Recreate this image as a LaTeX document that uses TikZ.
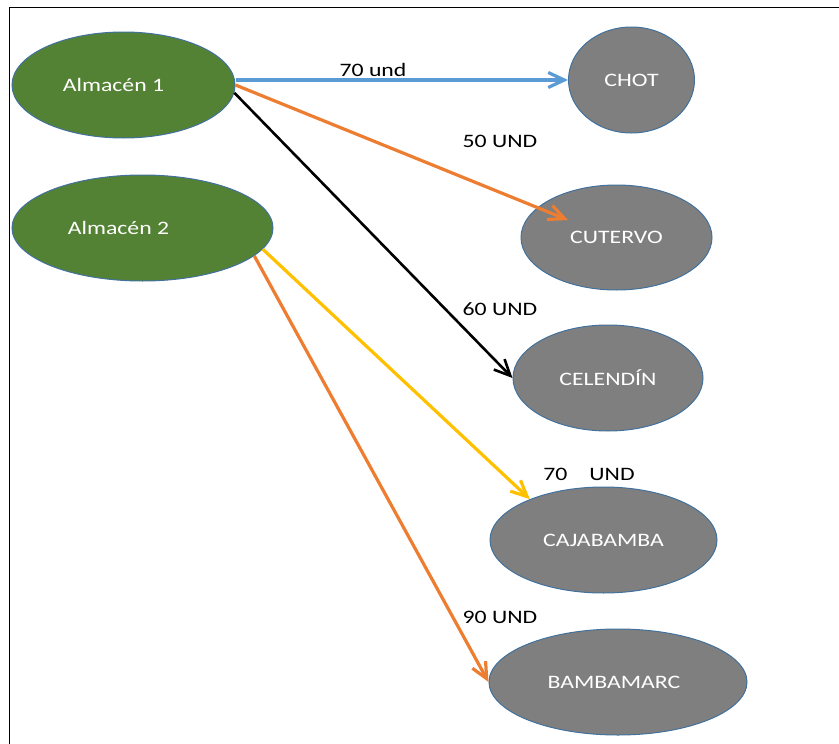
\documentclass[tikz,border=0pt]{standalone}
\usepackage{fontspec}
\setmainfont{Carlito}
\newfontfamily\lblfont[FakeStretch=1.25]{Carlito}
\usetikzlibrary{shapes.geometric,arrows.meta}
\definecolor{cblue}{HTML}{5B9BD5}
\definecolor{corange}{HTML}{ED7D31}
\definecolor{cyellow}{HTML}{FFC000}
\definecolor{cgreen}{HTML}{548235}
\definecolor{cgray}{HTML}{7F7F7F}
\definecolor{cedge}{HTML}{41719C}
\tikzset{
  oval/.style={ellipse, draw=cedge, line width=1pt, inner sep=0pt, text=white,
    font=\lblfont\fontsize{19}{22}\selectfont},
  store/.style={oval, fill=cgreen},
  town/.style={oval, fill=cgray},
  qty/.style={inner sep=0pt, text=black, font=\lblfont\fontsize{19}{22}\selectfont},
  flow/.style={line width=3.2pt, -{Straight Barb[length=16pt,width=15pt]}},
}
\begin{document}
\begin{tikzpicture}[x=1pt,y=-1pt]
\useasboundingbox (0,0) rectangle (839,744);
% frame
\coordinate (fTL) at (9.5,7.5);
\coordinate (fTR) at (839,7.5);
\coordinate (fBL) at (9.5,744);
\draw[line width=1.6pt] (fTR) -- (fTL) -- (fBL);
% nodes
\node[store, minimum width=223pt, minimum height=106pt] (a1) at (123.5,85) {Almacén 1\hspace*{20pt}};
\node[store, minimum width=261pt, minimum height=106pt] (a2) at (142.5,228) {Almacén 2\hspace*{48pt}};
\node[town, minimum width=126pt, minimum height=106pt] (chot) at (631.5,80) {CHOT};
\node[town, minimum width=191pt, minimum height=105pt] (cut) at (616.5,237.5) {CUTERVO};
\node[town, minimum width=190pt, minimum height=106pt] (cel) at (608,378) {CELENDÍN};
\node[town, minimum width=227pt, minimum height=106pt] (caj) at (603.5,540) {CAJABAMBA};
\node[town, minimum width=258pt, minimum height=106pt] (bam) at (618,682) {BAMBAMARC\hspace*{8pt}};
% labels
\node[qty] (l1) at (373,70) {70 und};
\node[qty] (l2) at (500,141) {50 UND};
\node[qty] (l3) at (500,309) {60 UND};
\node[qty] (l4) at (589,474) {70\hspace{22pt}UND};
\node[qty] (l5) at (500,617) {90 UND};
% connectors
\coordinate (t1) at (568,220);
\draw[flow, cblue] (a1.east |- chot.west) -- (chot.west);
\draw[flow, corange] (a1.0) -- (t1);
\draw[flow, black, line width=2.6pt] (a1.-4) -- (cel.west);
\draw[flow, cyellow] (a2.-10) -- (caj.151);
\draw[flow, corange] (a2.-14) -- (bam.west);
\end{tikzpicture}
\end{document}
